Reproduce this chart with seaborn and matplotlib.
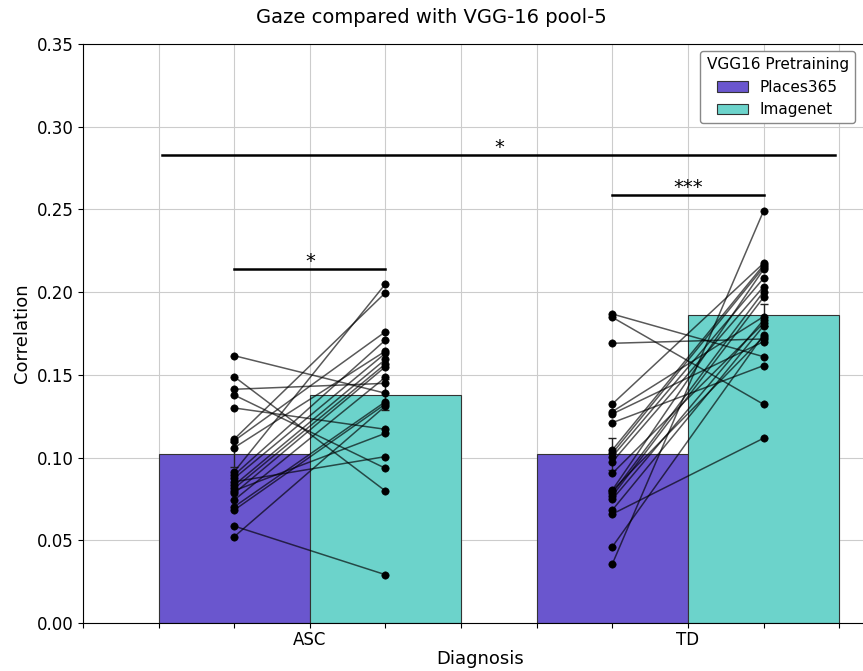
import numpy as np
import pandas as pd
import matplotlib
matplotlib.use("Agg")
import matplotlib.pyplot as plt
import seaborn as sns

# grupos e pre-treino
groups = ["ASC", "TD"]
pretraining = ["Places365", "Imagenet"]
palette = ["#6A56CE", "#6CD3CB"]

# altura das barras e erro (Places365, Imagenet)
asc_bars = [0.102, 0.138]
td_bars = [0.102, 0.186]
asc_err = [0.0077, 0.0095]
td_err = [0.0097, 0.0067]

# valores por sujeito (pareados na mesma ordem)
asc_places = [0.1616, 0.1489, 0.1413, 0.1378, 0.130, 0.1112, 0.1102, 0.106,
              0.0915, 0.0895, 0.0875, 0.0854, 0.0834, 0.0814, 0.0784, 0.0744,
              0.0703, 0.0683, 0.0586, 0.0522, 0.0800]
asc_imagenet = [0.1389, 0.0798, 0.1449, 0.0935, 0.1171, 0.1997, 0.1761, 0.1644,
                0.205, 0.1711, 0.1631, 0.1006, 0.1594, 0.1566, 0.155, 0.1486,
                0.1338, 0.1324, 0.0292, 0.1312, 0.1147]
td_places = [0.1868, 0.1848, 0.1691, 0.1324, 0.1278, 0.1264, 0.1211, 0.1046,
             0.1026, 0.1006, 0.0975, 0.0905, 0.0804, 0.0784, 0.0768, 0.0748,
             0.0683, 0.0659, 0.0461, 0.0357, 0.0800]
td_imagenet = [0.161, 0.1322, 0.1717, 0.2175, 0.1852, 0.1701, 0.1556, 0.2164,
               0.215, 0.2084, 0.2033, 0.1812, 0.2138, 0.2003, 0.1969, 0.1832,
               0.1796, 0.1117, 0.1741, 0.2491, 0.1731]

# significancia
sig_labels = ["*", "***", "*"]
sig_heights = [0.214, 0.2588, 0.283]

fig = plt.figure(figsize=(8.63, 6.71), dpi=100)
ax = fig.add_axes([0.0962, 0.0715, 0.92, 0.8629])

bars = pd.DataFrame({
    "Diagnosis": [g for g in groups for _ in pretraining],
    "VGG16 Pretraining": pretraining * 2,
    "Correlation": [asc_bars[0], asc_bars[1], td_bars[0], td_bars[1]],
})
sns.barplot(data=bars, x="Diagnosis", y="Correlation", hue="VGG16 Pretraining",
            palette=palette, saturation=1, edgecolor="#333333", linewidth=0.8,
            errorbar=None, ax=ax)

# centros das barras: centers[hue][grupo]
centers = [[p.get_x() + p.get_width() / 2 for p in c] for c in ax.containers]
edges_left = ax.containers[0].patches[0].get_x()
edges_right = ax.containers[1].patches[1].get_x() + ax.containers[1].patches[1].get_width()

heights = [asc_bars, td_bars]
errs = [asc_err, td_err]
for c in range(2):
    for h in range(2):
        ax.errorbar(centers[h][c], heights[c][h], yerr=errs[c][h], color="#222222",
                    capsize=3, lw=1, zorder=3)

rows = []
for c, (pl, im) in enumerate([(asc_places, asc_imagenet), (td_places, td_imagenet)]):
    for s, (a, b) in enumerate(zip(pl, im)):
        rows.append({"subject": f"{c}-{s}", "x": centers[0][c], "y": a})
        rows.append({"subject": f"{c}-{s}", "x": centers[1][c], "y": b})
pairs = pd.DataFrame(rows)

sns.lineplot(data=pairs, x="x", y="y", units="subject", estimator=None,
             color="black", alpha=0.65, lw=1.1, legend=False, ax=ax, zorder=4)
sns.scatterplot(data=pairs, x="x", y="y", color="black", s=28, edgecolor="black",
                legend=False, ax=ax, zorder=5)

# linhas de significancia
spans = [(centers[0][0], centers[1][0]), (centers[0][1], centers[1][1]),
         (edges_left + 0.01, edges_right - 0.01)]
for (x0, x1), lab, yv in zip(spans, sig_labels, sig_heights):
    ax.plot([x0, x1], [yv, yv], color="black", lw=1.8, zorder=6)
    ax.text((x0 + x1) / 2, yv - 0.001, lab, ha="center", va="bottom", fontsize=14)

ax.set_xlim(-0.6, 1.5)
ax.set_ylim(0, 0.35)
ax.set_yticks(np.arange(0, 0.351, 0.05))
ax.set_yticklabels([f"{v:.2f}" for v in np.arange(0, 0.351, 0.05)], fontsize=12)
xt = np.round(np.arange(-0.6, 1.41, 0.2), 1)
ax.set_xticks(xt)
ax.set_xticklabels([groups[int(v)] if v in (0.0, 1.0) else "" for v in xt], fontsize=12)
ax.tick_params(axis="x", pad=2)
ax.set_xlabel("Diagnosis", fontsize=13, labelpad=1)
ax.set_ylabel("Correlation", fontsize=13)

# grade nos dois eixos (barplot desliga a do x)
ax.set_axisbelow(True)
ax.grid(True, axis="both", color="#cccccc", lw=0.8)

sns.move_legend(ax, "upper right", bbox_to_anchor=(0.972, 0.988), borderaxespad=0,
                fontsize=11, title_fontsize=11, framealpha=1, edgecolor="#888888")

fig.suptitle("Gaze compared with VGG-16 pool-5", y=0.988, va="top", fontsize=14)
fig.savefig("out.png", dpi=100)
